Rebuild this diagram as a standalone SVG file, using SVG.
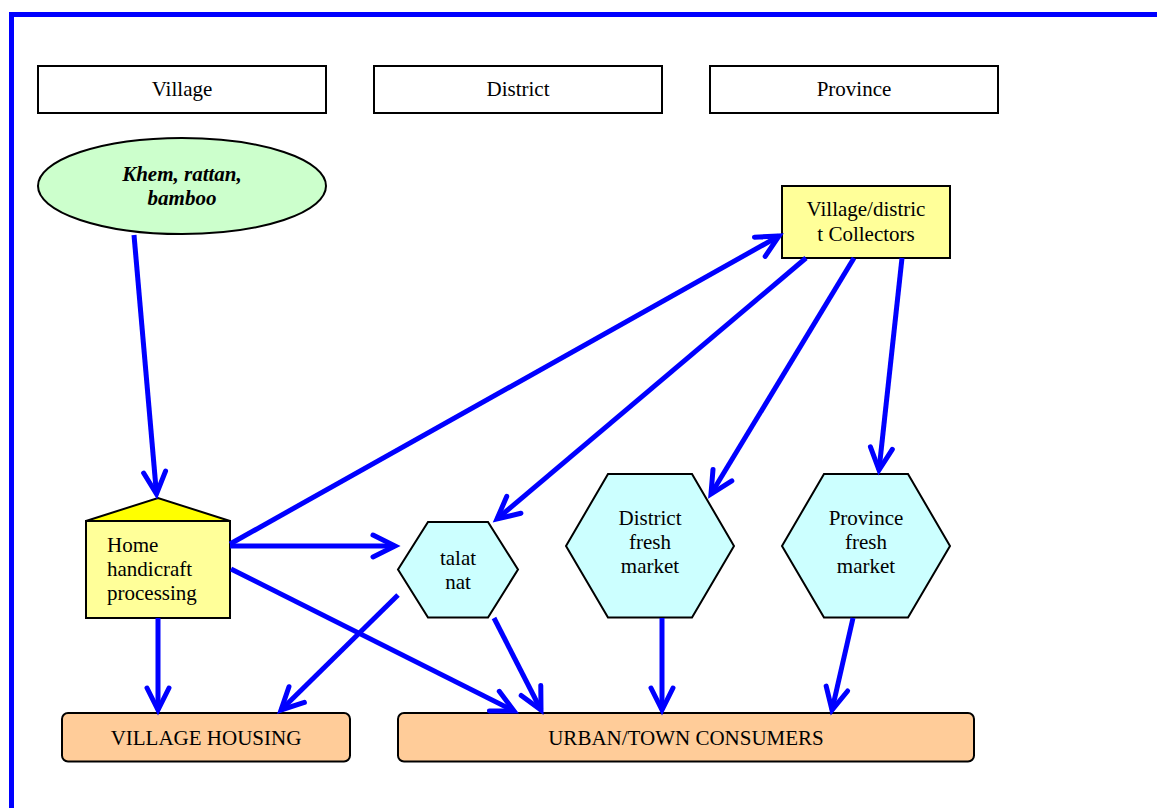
<svg xmlns="http://www.w3.org/2000/svg" width="1157" height="808" viewBox="0 0 1157 808">
<style>
text{font-family:"Liberation Serif","Times New Roman",serif;font-size:21px;fill:#000}
.c{text-anchor:middle}
.hdr{fill:#fff;stroke:#000;stroke-width:2}
.yel{fill:#ffff99;stroke:#000;stroke-width:2}
.hex{fill:#ccffff;stroke:#000;stroke-width:2}
.org{fill:#ffcc99;stroke:#000;stroke-width:2}
.arr{stroke:#0000ff;stroke-width:5;fill:none;marker-end:url(#ah)}
</style>
<defs>
<marker id="ah" markerUnits="userSpaceOnUse" orient="auto" markerWidth="40" markerHeight="40" refX="0" refY="0" viewBox="-30 -20 40 40" overflow="visible">
<path d="M-22,-11 L0,0 L-22,11" fill="none" stroke="#0000ff" stroke-width="5" stroke-linecap="round" stroke-linejoin="miter"/>
</marker>
</defs>
<rect width="1157" height="808" fill="#fff"/>
<g id="frame">
<line x1="9" y1="14.5" x2="1157" y2="14.5" stroke="#0000ff" stroke-width="5"/>
<line x1="11.5" y1="12" x2="11.5" y2="808" stroke="#0000ff" stroke-width="5"/>
</g>
<g id="hdr-village"><rect class="hdr" x="38" y="66" width="288" height="47"/><text class="c" x="182" y="96">Village</text></g>
<g id="hdr-district"><rect class="hdr" x="374" y="66" width="288" height="47"/><text class="c" x="518" y="96">District</text></g>
<g id="hdr-province"><rect class="hdr" x="710" y="66" width="288" height="47"/><text class="c" x="854" y="96">Province</text></g>
<g id="raw">
<ellipse cx="182" cy="186" rx="144" ry="48" fill="#ccffcc" stroke="#000" stroke-width="2"/>
<text class="c" x="182" y="181" font-weight="bold" font-style="italic">Khem, rattan,</text>
<text class="c" x="182" y="205" font-weight="bold" font-style="italic">bamboo</text>
</g>
<g id="collectors">
<rect class="yel" x="782" y="186" width="168" height="72"/>
<text class="c" x="866" y="216">Village/distric</text>
<text class="c" x="866" y="241">t Collectors</text>
</g>
<g id="home">
<polygon points="86,521 158,498 230,521" fill="#ffff00" stroke="#000" stroke-width="2"/>
<rect class="yel" x="86" y="521" width="144" height="97"/>
<text x="107" y="552">Home</text>
<text x="107" y="576">handicraft</text>
<text x="107" y="600">processing</text>
</g>
<g id="talat">
<polygon class="hex" points="428,522 488,522 518,569.5 488,617.5 428,617.5 398,569.5"/>
<text class="c" x="458" y="565">talat</text>
<text class="c" x="458" y="589">nat</text>
</g>
<g id="district-market">
<polygon class="hex" points="608,474 692,474 734,546 692,617.5 608,617.5 566,546"/>
<text class="c" x="650" y="525">District</text>
<text class="c" x="650" y="549">fresh</text>
<text class="c" x="650" y="573">market</text>
</g>
<g id="province-market">
<polygon class="hex" points="824,474 908,474 950,546 908,617.5 824,617.5 782,546"/>
<text class="c" x="866" y="525">Province</text>
<text class="c" x="866" y="549">fresh</text>
<text class="c" x="866" y="573">market</text>
</g>
<g id="village-housing">
<rect class="org" x="62" y="713" width="288" height="48.5" rx="6"/>
<text class="c" x="206" y="745">VILLAGE HOUSING</text>
</g>
<g id="urban">
<rect class="org" x="398" y="713" width="576" height="48.5" rx="6"/>
<text class="c" x="686" y="745">URBAN/TOWN CONSUMERS</text>
</g>
<g id="connectors">
<line class="arr" x1="134" y1="235" x2="156.5" y2="494"/>
<line class="arr" x1="230" y1="544" x2="779" y2="236"/>
<line class="arr" x1="230" y1="546" x2="395" y2="546"/>
<line class="arr" x1="231" y1="569" x2="514" y2="711"/>
<line class="arr" x1="398" y1="595" x2="281" y2="710"/>
<line class="arr" x1="158" y1="618" x2="158" y2="710"/>
<line class="arr" x1="494" y1="618" x2="541" y2="710"/>
<line class="arr" x1="806" y1="258" x2="497" y2="519"/>
<line class="arr" x1="854" y1="258" x2="711" y2="494"/>
<line class="arr" x1="902" y1="258" x2="879" y2="470"/>
<line class="arr" x1="662" y1="618" x2="662" y2="710"/>
<line class="arr" x1="853" y1="618" x2="832" y2="710"/>
</g>
</svg>
